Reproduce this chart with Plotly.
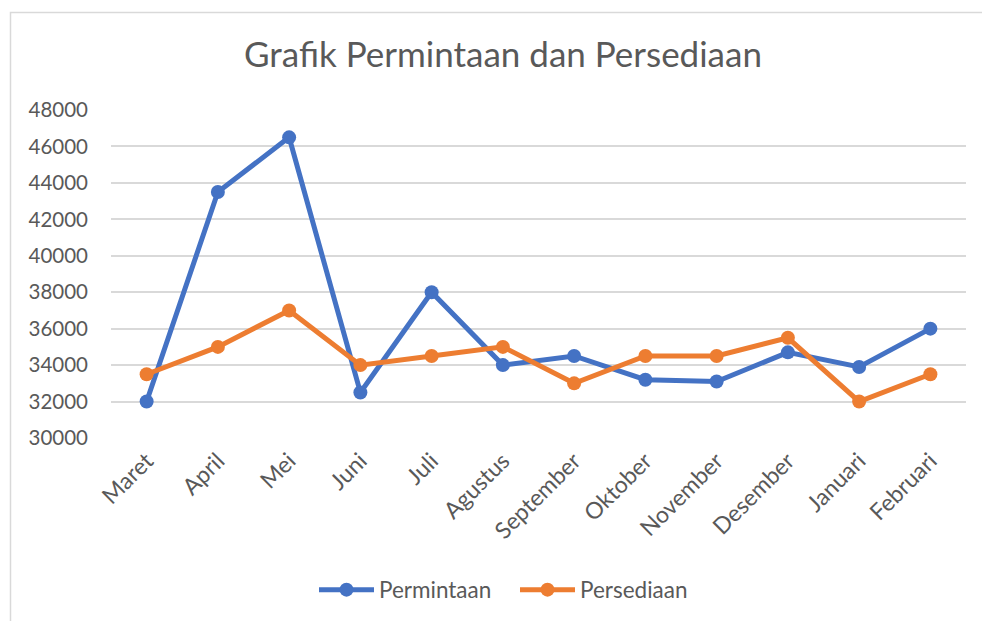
import plotly.graph_objects as go

months = ["Maret", "April", "Mei", "Juni", "Juli", "Agustus", "September",
          "Oktober", "November", "Desember", "Januari", "Februari"]
permintaan = [32000, 43500, 46500, 32500, 38000, 34000, 34500, 33200, 33100, 34700, 33900, 36000]
persediaan = [33500, 35000, 37000, 34000, 34500, 35000, 33000, 34500, 34500, 35500, 32000, 33500]
y_ticks = [30000, 32000, 34000, 36000, 38000, 40000, 42000, 44000, 46000, 48000]

FONT = "Lato"
GREY = "#595959"

fig = go.Figure()
fig.add_trace(go.Scatter(x=months, y=permintaan, name="Permintaan", mode="lines+markers",
                         line=dict(color="#4472C4", width=5),
                         marker=dict(size=14, color="#4472C4")))
fig.add_trace(go.Scatter(x=months, y=persediaan, name="Persediaan", mode="lines+markers",
                         line=dict(color="#ED7D31", width=5),
                         marker=dict(size=14, color="#ED7D31")))

W, H = 982, 621
L, R, T, B = 111, 16, 110, 183
pw, ph = W - L - R, H - T - B

def px(x):
    return (x - L) / pw

def py(y):
    return (H - B - y) / ph

fig.update_layout(
    width=W, height=H,
    margin=dict(l=L, r=R, t=T, b=B, autoexpand=False),
    paper_bgcolor="white", plot_bgcolor="white",
    font=dict(family=FONT, color=GREY, size=20),
    title=dict(text="Grafik Permintaan dan Persediaan", x=503 / W, y=1 - 55 / H,
               xanchor="center", yanchor="middle",
               font=dict(family=FONT, size=35, color=GREY)),
    xaxis=dict(type="category", range=[-0.5, 11.5], tickangle=-45, showgrid=False,
               showline=False, ticks="", tickfont=dict(size=23, color=GREY),
               ticklabelstandoff=4),
    yaxis=dict(range=[30000, 48000], tickvals=y_ticks, tickformat="d", showgrid=True,
               gridcolor="#D9D9D9", gridwidth=1.5, zeroline=False, showline=False, ticks="",
               tickfont=dict(size=20.5, color=GREY), ticklabelstandoff=22),
    showlegend=True,
    legend=dict(orientation="h", x=px(515), y=py(590), xanchor="center", yanchor="middle",
                font=dict(size=22.5, color=GREY), itemwidth=55, entrywidth=131,
                traceorder="normal"),
    shapes=[dict(type="rect", xref="paper", yref="paper",
                 x0=px(10.5), x1=px(1000), y0=py(640), y1=py(12.5),
                 line=dict(color="#D9D9D9", width=1.5), fillcolor="rgba(0,0,0,0)",
                 layer="below")],
)

fig.write_html("out.html", config={"displayModeBar": False},
               post_script="document.body.style.margin='0';document.body.style.padding='0';")
